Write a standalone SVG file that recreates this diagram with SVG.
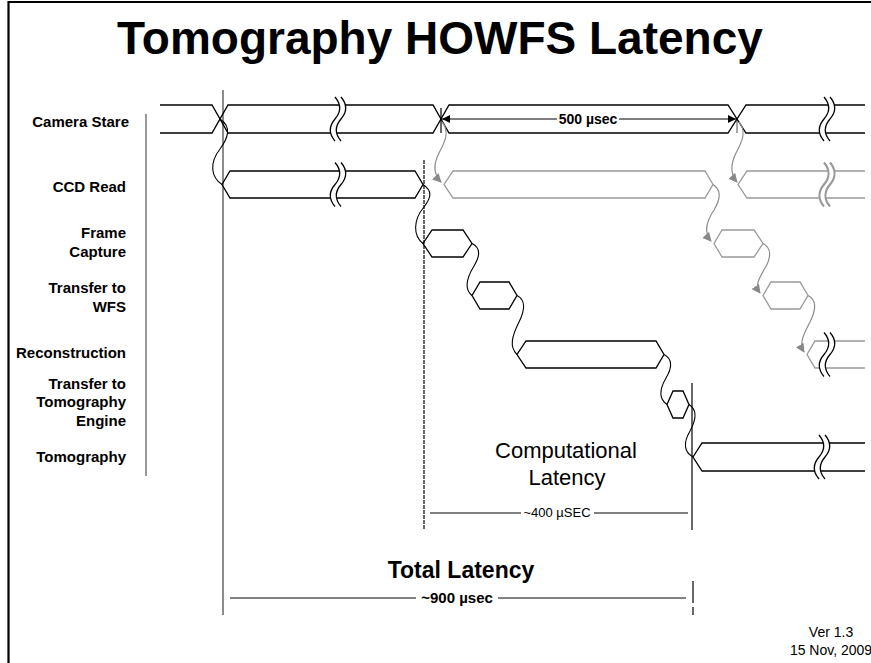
<svg xmlns="http://www.w3.org/2000/svg" xmlns:xlink="http://www.w3.org/1999/xlink" width="871" height="663" viewBox="0 0 871 663">
<style>
.lbl{font-family:"Liberation Sans",Arial,sans-serif;font-weight:bold;font-size:15px;fill:#000;text-anchor:end}
.blk{fill:none;stroke:#000;stroke-width:1.3}
.gry{fill:none;stroke:#999;stroke-width:1.3}
.gcur{fill:none;stroke:#8c8c8c;stroke-width:1.2}
.bcur{fill:none;stroke:#000;stroke-width:1.1}
.mid{font-family:"Liberation Sans",Arial,sans-serif;text-anchor:middle;fill:#000}
</style>
<defs>
<marker id="ga" viewBox="0 0 10 10" refX="9" refY="5" markerWidth="9" markerHeight="9" markerUnits="userSpaceOnUse" orient="auto">
<path d="M0,0 L10,5 L0,10 Z" fill="#888"/>
</marker>
<marker id="ba" viewBox="0 0 10 10" refX="10" refY="5" markerWidth="9" markerHeight="8" markerUnits="userSpaceOnUse" orient="auto">
<path d="M0,0 L10,5 L0,10 Z" fill="#000"/>
</marker>
<g id="brk">
<path d="M-3,-22 C3,-15 3,-7 -3,0 C-9,7 -9,15 -3,22 L3,22 C-3,15 -3,7 3,0 C9,-7 9,-15 3,-22 Z" fill="#fff" stroke="none"/>
<path d="M-3,-22 C3,-15 3,-7 -3,0 C-9,7 -9,15 -3,22" fill="none"/>
<path d="M3,-22 C9,-15 9,-7 3,0 C-3,7 -3,15 3,22" fill="none"/>
</g>
</defs>
<rect width="871" height="663" fill="#fff"/>
<!-- frame -->
<path d="M8.5,663 V2 H871" fill="none" stroke="#000" stroke-width="2.2"/>
<text x="440" y="54" class="mid" font-size="46" font-weight="bold">Tomography HOWFS Latency</text>

<g id="labels">
<text class="lbl" x="129" y="127">Camera Stare</text>
<text class="lbl" x="126" y="192">CCD Read</text>
<text class="lbl" x="126" y="238">Frame</text>
<text class="lbl" x="126" y="257">Capture</text>
<text class="lbl" x="126" y="293">Transfer to</text>
<text class="lbl" x="126" y="312">WFS</text>
<text class="lbl" x="126" y="358">Reconstruction</text>
<text class="lbl" x="126" y="389">Transfer to</text>
<text class="lbl" x="126" y="407">Tomography</text>
<text class="lbl" x="126" y="426">Engine</text>
<text class="lbl" x="126" y="462">Tomography</text>
</g>

<g id="guides">
<line x1="146" y1="114" x2="146" y2="476" stroke="#777" stroke-width="1.5"/>
<line x1="223" y1="90" x2="223" y2="615" stroke="#666" stroke-width="1.5"/>
<line x1="424" y1="160" x2="424" y2="530" stroke="#000" stroke-width="1.2" stroke-dasharray="4,1"/>
<line x1="692" y1="383" x2="692" y2="530" stroke="#000" stroke-width="1.2"/>
<line x1="693" y1="581" x2="693" y2="603" stroke="#000" stroke-width="1.2"/>
<line x1="693" y1="607" x2="693" y2="615" stroke="#000" stroke-width="1.2"/>
<line x1="441" y1="108" x2="441" y2="133" stroke="#000" stroke-width="1.2"/>
<line x1="737" y1="120" x2="737" y2="133" stroke="#888" stroke-width="1.5"/>
</g>

<g id="camera-stare">
<path class="blk" d="M160,105 H212 L228,133 H433 L449,105 H728 L746,133 H865"/>
<path class="blk" d="M160,133 H212 L228,105 H433 L449,133 H728 L746,105 H865"/>
<use xlink:href="#brk" href="#brk" transform="translate(338,119)" stroke="#000" stroke-width="1.3"/>
<use xlink:href="#brk" href="#brk" transform="translate(827,119)" stroke="#000" stroke-width="1.3"/>
</g>

<g id="ccd-read">
<path class="blk" d="M415,171 H230 L222,184.5 L230,198 H415 L423,184.5 Z"/>
<use xlink:href="#brk" href="#brk" transform="translate(338,184.5)" stroke="#000" stroke-width="1.3"/>
<path class="gry" d="M705,171 H453 L444,184.5 L453,198 H705 L713,184.5 Z"/>
<path class="gry" d="M865,171 H747 L738,184.5 L747,198 H865"/>
<use xlink:href="#brk" href="#brk" transform="translate(827,184.5)" stroke="#999" stroke-width="2.2"/>
</g>

<g id="frame-capture">
<path class="blk" d="M432,230 H463 L472,243.5 L463,257 H432 L423,243.5 Z"/>
<path class="gry" d="M722,230 H754 L763,243.5 L754,257 H722 L714,243.5 Z"/>
</g>

<g id="transfer-wfs">
<path class="blk" d="M480,282 H509 L517,295.5 L509,309 H480 L472,295.5 Z"/>
<path class="gry" d="M771,282 H800 L808,295.5 L800,309 H771 L763,295.5 Z"/>
</g>

<g id="reconstruction">
<path class="blk" d="M526,341 H656 L664,354.5 L656,368 H526 L517,354.5 Z"/>
<path class="gry" d="M865,341 H815 L807,354.5 L815,368 H865"/>
<use xlink:href="#brk" href="#brk" transform="translate(827,354.5)" stroke="#000" stroke-width="1.3"/>
</g>

<g id="transfer-tomography">
<path class="blk" d="M673,391 H683 L689,404.5 L683,418 H673 L667,404.5 Z"/>
</g>

<g id="tomography">
<path class="blk" d="M865,443 H702 L693,457 L702,471 H865"/>
<use xlink:href="#brk" href="#brk" transform="translate(822,457)" stroke="#000" stroke-width="1.3"/>
</g>

<g id="connectors">
<path class="bcur" d="M220,119 C232,127 228,138 220,149 C209,163 211,177 222,184.5"/>
<path class="bcur" d="M423,184.5 C433,191 431,198 424,207 C413,220 413,236 423,243.5"/>
<path class="bcur" d="M472,243.5 C481,248 480,256 474,266 C466,279 464,289 472,295.5"/>
<path class="bcur" d="M517,295.5 C526,300 525,310 519,322 C512,336 509,347 517,354.5"/>
<path class="bcur" d="M664,354.5 C673,359 672,368 666,378 C659,390 659,399 667,404.5"/>
<path class="bcur" d="M689,404.5 C698,410 696,420 690,431 C683,443 684,452 693,457"/>
<path class="gcur" d="M442,122 C450,131 445,142 439,153 C433,165 434,175 441,182" marker-end="url(#ga)"/>
<path class="gcur" d="M739,122 C747,131 742,142 736,153 C730,165 731,175 737,182" marker-end="url(#ga)"/>
<path class="gcur" d="M713,184.5 C722,190 720,200 714,210 C706,222 704,233 711,241" marker-end="url(#ga)"/>
<path class="gcur" d="M763,243.5 C772,248 771,258 765,268 C758,280 755,286 760,293" marker-end="url(#ga)"/>
<path class="gcur" d="M808,295.5 C817,300 816,310 810,322 C803,335 799,344 804,352" marker-end="url(#ga)"/>
</g>

<g id="dimensions">
<line x1="442" y1="119" x2="557" y2="119" stroke="#000" stroke-width="1.1" marker-end="url(#ba)" transform="rotate(180 499.5 119)"/>
<line x1="619" y1="119" x2="736" y2="119" stroke="#000" stroke-width="1.1" marker-end="url(#ba)"/>
<text x="588" y="124" class="mid" font-size="14" font-weight="bold">500 µsec</text>
<text x="566" y="458" class="mid" font-size="22">Computational</text>
<text x="567" y="485" class="mid" font-size="22">Latency</text>
<line x1="430" y1="513" x2="521" y2="513" stroke="#000" stroke-width="1"/>
<line x1="594" y1="513" x2="688" y2="513" stroke="#000" stroke-width="1"/>
<text x="557" y="517" class="mid" font-size="13">~400 µSEC</text>
<text x="461" y="578" class="mid" font-size="23" font-weight="bold">Total Latency</text>
<line x1="230" y1="598" x2="416" y2="598" stroke="#000" stroke-width="1"/>
<line x1="498" y1="598" x2="686" y2="598" stroke="#000" stroke-width="1"/>
<text x="457" y="603" class="mid" font-size="15" font-weight="bold">~900 µsec</text>
<text x="831" y="637" class="mid" font-size="14">Ver 1.3</text>
<text x="831" y="655" class="mid" font-size="14">15 Nov, 2009</text>
</g>
</svg>
